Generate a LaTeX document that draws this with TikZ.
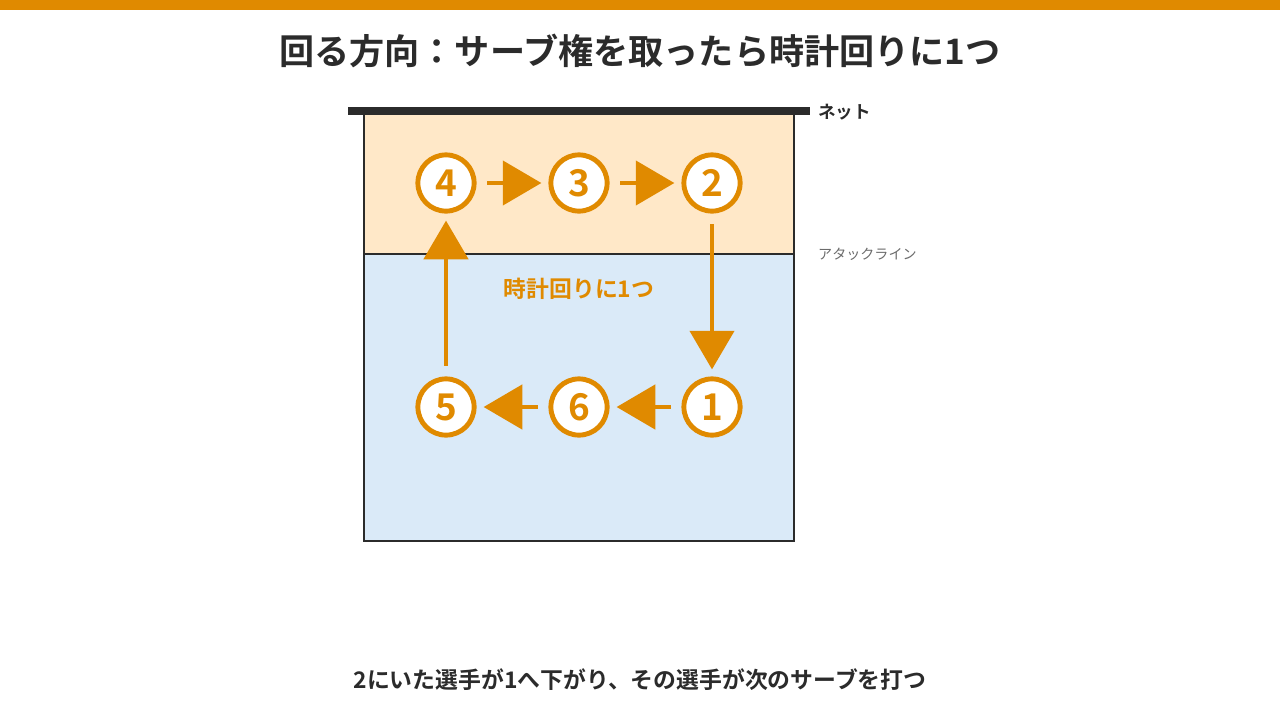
\documentclass[tikz,border=0pt]{standalone}
\usepackage{fontspec}
\setmainfont{Noto Sans CJK JP}[BoldFont={Noto Sans CJK JP Bold}]
\usetikzlibrary{arrows.meta}
\definecolor{accent}{HTML}{E08A00}
\definecolor{ink}{HTML}{2B2B2B}
\definecolor{front}{HTML}{FFE8C8}
\definecolor{back}{HTML}{DAEAF8}
\tikzset{
  spot/.style={circle, draw=accent, line width=2.8pt, fill=white, minimum size=32pt,
    inner sep=0pt, text=accent, font=\bfseries\fontsize{21}{21}\selectfont},
  turn/.style={draw=accent, line width=2.8pt, -{Triangle[length=22pt,width=25pt]},
    shorten <=6pt, shorten >=4pt}
}
\begin{document}
\begin{tikzpicture}[x=0.02cm, y=-0.02cm]
  \useasboundingbox (0,0) rectangle (1280,720);
  \fill[accent] (0,0) rectangle (1280,10);
  \node[text=ink, font=\bfseries\fontsize{20}{20}\selectfont] (title) at (640,51) {回る方向：サーブ権を取ったら時計回りに1つ};

  % court
  \fill[front] (364,111) rectangle (794,254);
  \fill[back] (364,254) rectangle (794,541);
  \draw[ink, line width=1.6pt] (364,254) -- (794,254);
  \draw[ink, line width=1.6pt] (364,111) rectangle (794,541);
  \draw[ink, line width=4.5pt] (348,111) -- (810,111);
  \node[anchor=west, text=ink, font=\bfseries\fontsize{10}{10}\selectfont] (net) at (812,112) {ネット};
  \node[anchor=west, text=ink!70, font=\fontsize{8}{8}\selectfont] (attack) at (812,254) {アタックライン};

  % positions
  \node[spot] (p4) at (446,183) {4};
  \node[spot] (p3) at (579,183) {3};
  \node[spot] (p2) at (712,183) {2};
  \node[spot] (p5) at (446,407) {5};
  \node[spot] (p6) at (579,407) {6};
  \node[spot] (p1) at (712,407) {1};

  \draw[turn] (p4) -- (p3);
  \draw[turn] (p3) -- (p2);
  \draw[turn] (p2) -- (p1);
  \draw[turn] (p1) -- (p6);
  \draw[turn] (p6) -- (p5);
  \draw[turn] (p5) -- (p4);

  \node[text=accent, font=\bfseries\fontsize{13}{13}\selectfont] (rule) at (579,289) {時計回りに1つ};
  \node[text=ink, font=\bfseries\fontsize{13}{13}\selectfont] (note) at (640,680) {2にいた選手が1へ下がり、その選手が次のサーブを打つ};
\end{tikzpicture}
\end{document}
